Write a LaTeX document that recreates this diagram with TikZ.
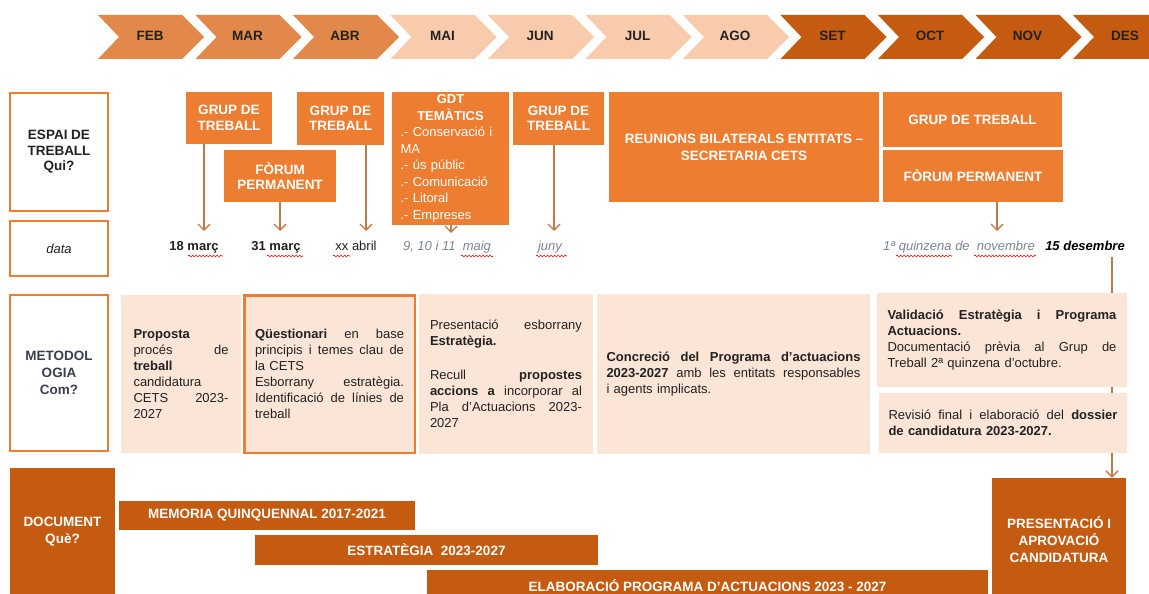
\documentclass[tikz,border=0pt]{standalone}
\usepackage{fontspec}
\setmainfont{Liberation Sans}
\usetikzlibrary{arrows.meta,decorations.pathmorphing}
\definecolor{medor}{HTML}{E2884B}
\definecolor{peach}{HTML}{F8CBAD}
\definecolor{darkor}{HTML}{C55A11}
\definecolor{boxor}{HTML}{ED7D31}
\definecolor{lfill}{HTML}{FBE5D6}
\definecolor{arrc}{HTML}{C27A48}
\definecolor{txt}{HTML}{222222}
\definecolor{greyt}{HTML}{7A8494}
\definecolor{labt}{HTML}{3A3F4F}
\newcommand\jf{\hfill}
\begin{document}
\begin{tikzpicture}[x=1pt,y=-1pt,
  chevtxt/.style={font=\bfseries\fontsize{13.5}{15}\selectfont, text=txt, inner sep=0, anchor=base},
  obox/.style={fill=boxor, text=white, font=\bfseries\fontsize{13.5}{15.5}\selectfont, align=center, inner sep=0},
  lbox/.style={draw=boxor, line width=1.2pt, fill=white, align=center, inner sep=0, text=txt},
  mbox/.style={fill=lfill, inner sep=0, font=\fontsize{13}{16}\selectfont, align=left, text=txt},
  dbox/.style={fill=darkor, text=white, font=\bfseries\fontsize{13.5}{17}\selectfont, align=center, inner sep=0},
  dtext/.style={font=\fontsize{13}{15}\selectfont, text=txt, inner sep=0, anchor=base},
  arr/.style={draw=arrc, line width=1.4pt, -{Straight Barb[length=6pt,width=12pt]}},
  squig/.style={draw=red, line width=0.6pt, decorate, decoration={snake, segment length=3.5pt, amplitude=0.9pt}}
]
\clip (0,0) rectangle (1149,594);
\fill[white] (0,0) rectangle (1149,594);

% month chevrons
\foreach \i/\m/\c in {0/FEB/medor,1/MAR/medor,2/ABR/medor,3/MAI/peach,4/JUN/peach,5/JUL/peach,6/AGO/peach,7/SET/darkor,8/OCT/darkor,9/NOV/darkor,10/DES/darkor}{
  \pgfmathsetmacro\xl{98+97.5*\i}
  \fill[\c] (\xl,15) -- ++(84,0) -- ++(22,22) -- ++(-22,22) -- ++(-84,0) -- ++(21,-22) -- cycle;
  \node[chevtxt] (m\i) at (\xl+52,41) {\m};
}

% left labels
\node[lbox, minimum width=98pt, minimum height=118pt, font=\bfseries\fontsize{13.5}{15.5}\selectfont] (espai) at (59,152) {ESPAI DE\\TREBALL\\Qui?};
\node[lbox, minimum width=98pt, minimum height=55pt, font=\itshape\fontsize{13}{15}\selectfont] (data) at (59,248.5) {data};
\node[lbox, minimum width=98pt, minimum height=156pt, font=\bfseries\fontsize{13.5}{17}\selectfont, text=labt] (metod) at (59,373) {METODOL\\OGIA\\Com?};
\node[dbox, minimum width=105pt, minimum height=127pt] (doc) at (62.5,531.5) {DOCUMENT\\Què?};

% working groups
\node[obox, minimum width=86pt, minimum height=52pt] (g1) at (229,118) {GRUP DE\\TREBALL};
\node[obox, minimum width=112pt, minimum height=52pt] (f1) at (280,176) {FÒRUM\\PERMANENT};
\node[obox, minimum width=87pt, minimum height=53pt] (g2) at (340.5,118.5) {GRUP DE\\TREBALL};
\node[obox, minimum width=117pt, minimum height=133pt, text width=100pt, align=left, font=\fontsize{13}{16.5}\selectfont] (gdt) at (450.5,158.5)
  {\makebox[100pt]{\bfseries GDT}\\ \makebox[100pt]{\bfseries TEMÀTICS}\\ .- Conservació i\\ MA\\ .- ús públic\\ .- Comunicació\\ .- Litoral\\ .- Empreses};
\node[obox, minimum width=91pt, minimum height=53pt] (g3) at (558.5,118.5) {GRUP DE\\TREBALL};
\node[obox, minimum width=270pt, minimum height=110pt, font=\bfseries\fontsize{13.5}{17}\selectfont] (reun) at (744,147) {REUNIONS BILATERALS ENTITATS –\\SECRETARIA CETS};
\node[obox, minimum width=179pt, minimum height=55pt] (gw) at (972.5,119.5) {GRUP DE TREBALL};
\node[obox, minimum width=180pt, minimum height=52pt] (fw) at (973,176) {FÒRUM PERMANENT};

% dates
\node[dtext, font=\bfseries\fontsize{13}{15}\selectfont] (d18) at (194,250) {18 març};
\node[dtext, font=\bfseries\fontsize{13}{15}\selectfont] (d31) at (276,250) {31 març};
\node[dtext] (dxx) at (356,250) {xx abril};
\node[dtext, font=\itshape\fontsize{13}{15}\selectfont, text=greyt] (dmai) at (447,250) {9, 10 i 11\ \ maig};
\node[dtext, font=\itshape\fontsize{13}{15}\selectfont, text=greyt] (djun) at (550,250) {juny};
\node[dtext, font=\itshape\fontsize{13}{15}\selectfont, text=greyt] (dnov) at (959,250) {1ª quinzena de\ \ novembre};
\node[dtext, font=\bfseries\itshape\fontsize{13}{15}\selectfont, text=black] (ddes) at (1085,250) {15 desembre};
\draw[squig] (188,256) -- (223,256);
\draw[squig] (267,256) -- (303,256);
\draw[squig] (333,256) -- (350,256);
\draw[squig] (461,256) -- (493,256);
\draw[squig] (536,256) -- (567,256);
\draw[squig] (896,256) -- (952,256);
\draw[squig] (974,256) -- (1036,256);

% arrows to dates
\coordinate (a1) at (204,231);
\coordinate (a2) at (280,231);
\coordinate (a3) at (366,231);
\coordinate (a4) at (451,233);
\coordinate (a5) at (554,231);
\coordinate (a6) at (997,231);
\draw[arr] (g1.south -| a1) -- (a1);
\draw[arr] (f1.south -| a2) -- (a2);
\draw[arr] (g2.south -| a3) -- (a3);
\draw[arr] (gdt.south -| a4) -- (a4);
\draw[arr] (g3.south -| a5) -- (a5);
\draw[arr] (fw.south -| a6) -- (a6);

% document bars
\node[dbox, minimum width=296pt, minimum height=29pt] (mem) at (267,515.5) {MEMORIA QUINQUENNAL 2017-2021};
\node[dbox, minimum width=343pt, minimum height=30pt] (est) at (426.5,550) {ESTRATÈGIA\ \ 2023-2027};
\node[dbox, minimum width=561pt, minimum height=32pt] (ela) at (707.5,586) {ELABORACIÓ PROGRAMA D’ACTUACIONS 2023 - 2027};
\node[dbox, minimum width=134pt, minimum height=124pt] (pres) at (1059,540) {PRESENTACIÓ I\\APROVACIÓ\\CANDIDATURA};

% line from 15 desembre to presentation
\coordinate (a7) at (1112,257);
\draw[arr] (a7) -- (a7 |- pres.north);

% methodology
\node[mbox, minimum width=120pt, minimum height=158pt, text width=95pt] (mA) at (181,374)
  {\textbf{Proposta}\\ procés\jf de\\ \textbf{treball}\\ candidatura\\ CETS\jf 2023-\\ 2027};
\node[mbox, draw=boxor, line width=2.5pt, minimum width=170.5pt, minimum height=157.5pt, text width=149pt] (mB) at (329.5,374)
  {\textbf{Qüestionari}\jf en\jf base\\ principis\jf i\jf temes\jf clau\jf de\\ la CETS\\ Esborrany\jf estratègia.\\ Identificació\jf de\jf línies\jf de\\ treball};
\node[mbox, minimum width=174pt, minimum height=160pt, text width=152pt] (mC) at (506,374)
  {Presentació\jf esborrany\\ \textbf{Estratègia.}\\[18pt] Recull\jf \textbf{propostes}\\ \textbf{accions\jf a}\jf incorporar\jf al\\ Pla\jf d’Actuacions\jf 2023-\\ 2027};
\node[mbox, minimum width=273pt, minimum height=160pt, text width=254pt] (mD) at (733.5,374)
  {\textbf{Concreció\jf del\jf Programa\jf d’actuacions}\\ \textbf{2023-2027}\jf amb\jf les\jf entitats\jf responsables\\ i agents implicats.};
\node[mbox, minimum width=250pt, minimum height=94pt, text width=229pt] (mE) at (1002,340)
  {\textbf{Validació\jf Estratègia\jf i\jf Programa}\\ \textbf{Actuacions.}\\ Documentació\jf prèvia\jf al\jf Grup\jf de\\ Treball 2ª quinzena d’octubre.};
\node[mbox, minimum width=248pt, minimum height=60pt, text width=229pt] (mF) at (1003,423)
  {Revisió\jf final\jf i\jf elaboració\jf del\jf \textbf{dossier}\\ \textbf{de candidatura 2023-2027.}};
\end{tikzpicture}
\end{document}
